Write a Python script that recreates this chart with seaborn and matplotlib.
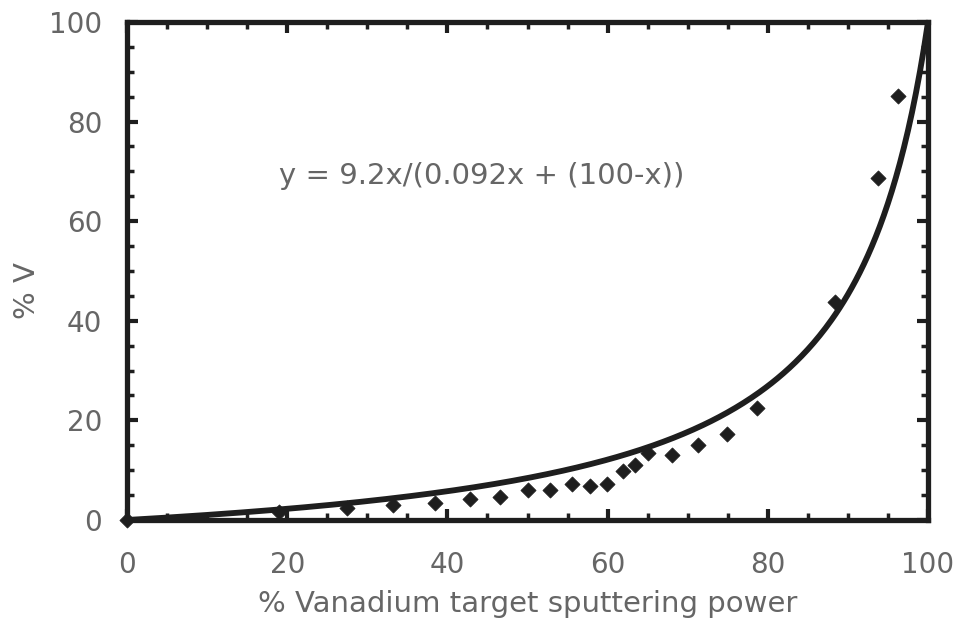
import numpy as np
import pandas as pd
import matplotlib
matplotlib.use("Agg")
import matplotlib.pyplot as plt
from matplotlib.ticker import MultipleLocator
import seaborn as sns

# Measured film composition vs. vanadium target power
power_pct = [0, 19, 27.5, 33.2, 38.5, 42.8, 46.6, 50.1, 52.8, 55.5, 57.8, 59.9,
             61.9, 63.4, 65.0, 68.0, 71.3, 74.9, 78.7, 88.4, 93.8, 96.3]
v_pct = [0, 1.6, 2.4, 3.0, 3.4, 4.2, 4.6, 6.0, 6.0, 7.2, 6.8, 7.2,
         9.8, 11.0, 13.4, 13.0, 15.0, 17.3, 22.4, 43.8, 68.7, 85.1]

# Fit: y = a*x / (b*x + (100 - x))
fit_a = 9.2
fit_b = 0.092

x_ticks = [0, 20, 40, 60, 80, 100]
y_ticks = [0, 20, 40, 60, 80, 100]
tick_labels = ["0", "20", "40", "60", "80", "100"]

sns.set_theme(style="white")
plt.rcParams["font.family"] = ["DejaVu Sans"]

fig = plt.figure(figsize=(9.58, 6.18), dpi=100)
ax = fig.add_axes([0.1326, 0.1586, 0.8361, 0.8058])

fit_x = np.linspace(0, 100, 400)
fit_y = fit_a * fit_x / (fit_b * fit_x + (100 - fit_x))
fit_df = pd.DataFrame({"x": fit_x, "y": fit_y})
sns.lineplot(data=fit_df, x="x", y="y", ax=ax, color="#1e1e1e", linewidth=4.2,
             zorder=3, clip_on=True)

pts = pd.DataFrame({"power": power_pct, "v": v_pct})
sns.scatterplot(data=pts, x="power", y="v", ax=ax, marker="D", s=60,
                color="#1e1e1e", edgecolor="#1e1e1e", linewidth=0.5,
                zorder=4, clip_on=False)

ax.set_xlim(0, 100)
ax.set_ylim(0, 100)
ax.set_xticks(x_ticks)
ax.set_yticks(y_ticks)
ax.set_xticklabels(tick_labels)
ax.set_yticklabels(tick_labels)
ax.xaxis.set_minor_locator(MultipleLocator(5))
ax.yaxis.set_minor_locator(MultipleLocator(5))

for side in ["left", "right", "top", "bottom"]:
    ax.spines[side].set_visible(True)
    ax.spines[side].set_color("#1e1e1e")
    ax.spines[side].set_linewidth(3.8)

label_color = "#666666"
ax.tick_params(axis="both", which="major", direction="in", length=8, width=3,
               color="#1e1e1e", top=True, right=True, bottom=True, left=True,
               labelsize=20, labelcolor=label_color)
ax.tick_params(axis="both", which="minor", direction="in", length=5, width=2.5,
               color="#1e1e1e", top=True, right=True, bottom=True, left=True)
ax.tick_params(axis="x", which="major", pad=22)
ax.tick_params(axis="y", which="major", pad=18)

ax.set_xlabel("% Vanadium target sputtering power", fontsize=21,
              color=label_color, labelpad=8)
ax.set_ylabel("% V", fontsize=21, color=label_color)
ax.yaxis.set_label_coords(-0.108, 0.46)

ax.text(19, 69, "y = 9.2x/(0.092x + (100-x))", fontsize=21,
        color=label_color, ha="left", va="center")

ax.grid(False)
fig.savefig("out.png", dpi=100, facecolor="white")
